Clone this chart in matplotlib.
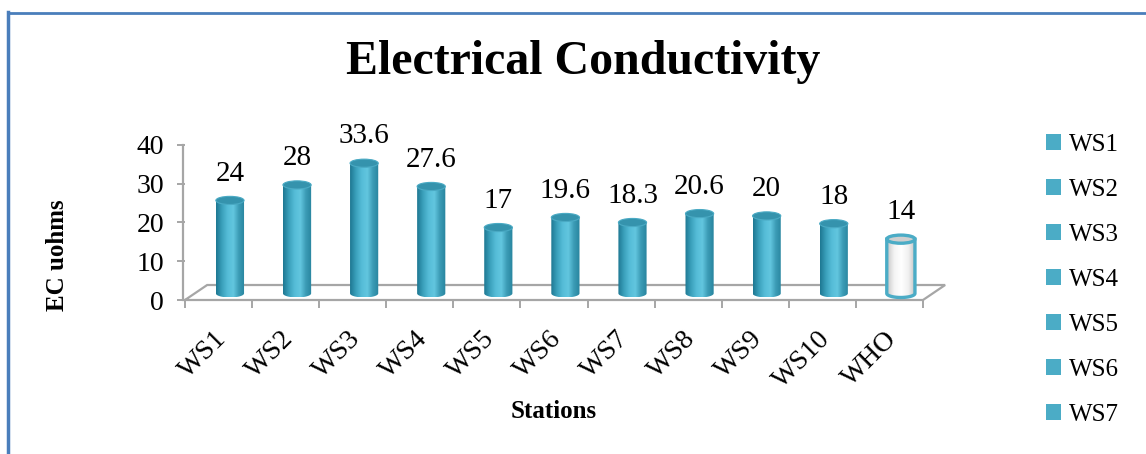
import matplotlib
matplotlib.use('Agg')
import matplotlib.pyplot as plt
import numpy as np
from matplotlib.colors import LinearSegmentedColormap
from matplotlib.patches import Ellipse, Patch, PathPatch
from matplotlib.path import Path
from matplotlib.lines import Line2D
from matplotlib.transforms import ScaledTranslation

# Station data
stations = ['WS1', 'WS2', 'WS3', 'WS4', 'WS5', 'WS6', 'WS7', 'WS8', 'WS9', 'WS10', 'WHO']
ec_values = [24, 28, 33.6, 27.6, 17, 19.6, 18.3, 20.6, 20, 18, 14]
value_labels = ['24', '28', '33.6', '27.6', '17', '19.6', '18.3', '20.6', '20', '18', '14']
legend_names = stations[:7]

plt.rcParams['font.family'] = ['Liberation Serif', 'DejaVu Serif']

W, H = 1146, 454
fig = plt.figure(figsize=(W / 100, H / 100), dpi=100)

# plot area in pixels: x from 185 to 923, y from 300 (value 0) up to 145 (value 40)
ax = fig.add_axes([185 / W, (H - 300) / H, (923 - 185) / W, 155 / H])
ax.patch.set_alpha(0)
for s in ax.spines.values():
    s.set_visible(False)

grey = '#a6a6a6'
teal = '#4bacc6'
depth_dx, depth_dy = 0.33, 3.87     # floor depth in data units
base = 1.7                           # bars stand in the middle of the floor
bw = 0.42                            # cylinder width
eh = 2.1                             # ellipse height (data units)
off = 0.17                           # shift of bars into the depth

# floor and value axis
n = len(stations)
ax.plot([-0.03, -0.03], [0, 40], color=grey, lw=1.6, clip_on=False)
ax.plot([0, n, n + depth_dx, depth_dx, 0], [0, 0, depth_dy, depth_dy, 0],
        color=grey, lw=1.6, clip_on=False, solid_joinstyle='miter')

body_cmap = LinearSegmentedColormap.from_list(
    'cyl', ['#1e7892', '#3aa0bb', '#55bcd7', '#62c6df', '#3b9bb5', '#28859f'])
white_cmap = LinearSegmentedColormap.from_list(
    'cylw', ['#c8c8c8', '#f4f4f4', '#ffffff', '#f0f0f0', '#bdbdbd'])
grad = np.linspace(0, 1, 64).reshape(1, -1)

for i, (v, lab) in enumerate(zip(ec_values, value_labels)):
    cx = i + 0.5 + off
    x0, x1 = cx - bw / 2, cx + bw / 2
    top = base + v
    t = np.linspace(np.pi, 2 * np.pi, 40)
    arc_x = cx + bw / 2 * np.cos(t)
    arc_y = base + eh / 2 * np.sin(t)
    verts = [(x0, top)] + list(zip(arc_x, arc_y)) + [(x1, top), (x0, top)]
    codes = [Path.MOVETO] + [Path.LINETO] * (len(verts) - 2) + [Path.CLOSEPOLY]
    outline = PathPatch(Path(verts, codes), facecolor='none', edgecolor='none')
    ax.add_patch(outline)
    is_ref = stations[i] == 'WHO'
    im = ax.imshow(grad, cmap=white_cmap if is_ref else body_cmap, aspect='auto',
                   extent=[x0, x1, base - eh / 2, top], zorder=2)
    im.set_clip_path(outline)
    if is_ref:
        ax.add_patch(PathPatch(Path(verts, codes), facecolor='none',
                               edgecolor=teal, lw=2.4, zorder=3))
        ax.add_patch(Ellipse((cx, top), bw, eh, facecolor='#cfcfcf',
                             edgecolor=teal, lw=2.4, zorder=4))
    else:
        ax.add_patch(Ellipse((cx, top), bw, eh, facecolor='#3593ad',
                             edgecolor='#4aaac4', lw=0.8, zorder=4))
    ax.annotate(lab, (cx, top + eh / 2), xytext=(0, 7), textcoords='offset points',
                ha='center', va='bottom', fontsize=21)

ax.set_xlim(0, n)
ax.set_ylim(0, 40)

ax.set_yticks([0, 10, 20, 30, 40])
ax.tick_params(axis='y', length=6, width=1.4, color=grey, labelsize=20, pad=9)
ax.set_xticks(np.arange(n + 1))
ax.set_xticklabels([])
ax.tick_params(axis='x', which='major', length=6, width=1.4, color=grey)
ax.set_xticks(np.arange(n) + 0.5, minor=True)
ax.set_xticklabels(stations, minor=True, rotation=45, ha='right',
                   rotation_mode='anchor', fontsize=20)
ax.tick_params(axis='x', which='minor', length=0, pad=19)
shift = ScaledTranslation(-5 / 100, 0, fig.dpi_scale_trans)
for tl in ax.get_xticklabels(minor=True):
    tl.set_transform(tl.get_transform() + shift)

ax.set_xlabel('Stations', fontsize=18, fontweight='bold', va='center')
ax.xaxis.set_label_coords(0.499, -0.72)
ax.set_ylabel('EC uohms', fontsize=18, fontweight='bold', va='center')
ax.yaxis.set_label_coords(-0.173, 0.29)

fig.text(583 / W, 1 - 62 / H, 'Electrical Conductivity', ha='center', va='center',
         fontsize=34.5, fontweight='bold')

handles = [Patch(facecolor=teal, edgecolor='none') for _ in legend_names]
fig.legend(handles, legend_names, loc='upper left',
           bbox_to_anchor=(1036 / W, 1 - 124 / H), frameon=False, fontsize=18,
           handlelength=0.6, handleheight=0.6, handletextpad=0.3,
           labelspacing=0.92, borderaxespad=0)

# chart frame (left and top edges)
fig.add_artist(Line2D([8 / W, 8 / W], [0, 1 - 12 / H], color='#4a7ebb', lw=2.5))
fig.add_artist(Line2D([8 / W, 1], [1 - 12.5 / H, 1 - 12.5 / H], color='#4a7ebb', lw=2))

fig.savefig('out.png', dpi=100)
plt.close(fig)
